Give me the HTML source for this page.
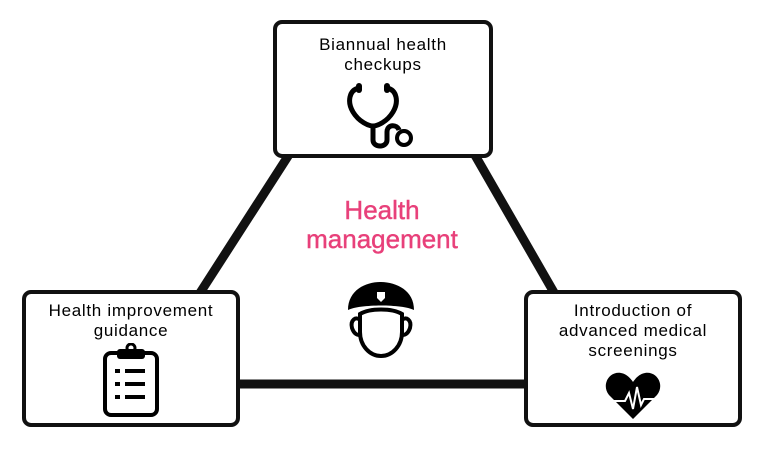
<!DOCTYPE html>
<html><head><style>
body{margin:0;width:767px;height:450px;background:#fff;position:relative;overflow:hidden;font-family:"Liberation Sans",sans-serif}
.b{position:absolute;border:4px solid #111;border-radius:9px;background:#fff;box-sizing:border-box;text-align:center;font-size:17px;letter-spacing:0.7px;line-height:20px;color:#000}
</style></head><body>
<svg width="767" height="450" style="position:absolute;left:0;top:0">
<line x1="292" y1="150" x2="198" y2="296" stroke="#111" stroke-width="9"/>
<line x1="472" y1="150" x2="556" y2="296" stroke="#111" stroke-width="9"/>
<line x1="234" y1="384" x2="530" y2="384" stroke="#111" stroke-width="9"/>
</svg>
<div class="b" style="left:273px;top:20px;width:220px;height:138px;padding-top:11px">Biannual health<br>checkups
<svg width="80" height="70" style="display:block;margin:5px auto 0" viewBox="0 0 80 70">
<path d="M16 8 C6 10 4 22 10 32 C16 42 26 46 30 46 C34 46 44 42 50 32 C56 22 54 10 44 8" fill="none" stroke="#000" stroke-width="5"/>
<rect x="13" y="3" width="6" height="10" rx="3" fill="#000"/><rect x="41" y="3" width="6" height="10" rx="3" fill="#000"/>
<path d="M30 46 L30 60 C30 68 44 68 44 60 L44 52 C44 44 54 44 56 50" fill="none" stroke="#000" stroke-width="5"/>
<circle cx="61" cy="58" r="7" fill="none" stroke="#000" stroke-width="4"/>
</svg></div>
<div style="position:absolute;left:282px;top:196px;width:200px;text-align:center;color:#e8407a;font-size:26px;line-height:29px;-webkit-text-stroke:0.4px #e8407a">Health<br>management</div>
<svg width="70" height="80" viewBox="0 0 70 80" style="position:absolute;left:346px;top:280px">
<path d="M2 30 C2 10 20 2 34 2 C50 2 68 10 68 30 C56 24 14 24 2 30Z" fill="#000"/>
<path d="M31 12 h8 v6 l-4 4 l-4 -4Z" fill="#fff"/>
<path d="M14 40 C10 36 4 40 6 48 C8 54 12 56 14 54" fill="none" stroke="#000" stroke-width="4"/>
<path d="M56 40 C60 36 66 40 64 48 C62 54 58 56 56 54" fill="none" stroke="#000" stroke-width="4"/>
<path d="M14 34 C24 28 46 28 56 34 L56 52 C56 66 46 76 35 76 C24 76 14 66 14 52Z" fill="#fff" stroke="#000" stroke-width="4"/>
</svg>
<div class="b" style="left:22px;top:290px;width:218px;height:137px;padding-top:7px">Health improvement<br>guidance
<svg width="60" height="76" viewBox="0 0 60 76" style="display:block;margin:2px auto 0">
<rect x="4" y="10" width="52" height="62" rx="6" fill="none" stroke="#000" stroke-width="4"/>
<rect x="16" y="6" width="28" height="10" rx="3" fill="#000"/><circle cx="30" cy="5" r="4" fill="none" stroke="#000" stroke-width="3"/>
<rect x="14" y="26" width="5" height="4" fill="#000"/><rect x="24" y="26" width="20" height="4" fill="#000"/>
<rect x="14" y="39" width="5" height="4" fill="#000"/><rect x="24" y="39" width="20" height="4" fill="#000"/>
<rect x="14" y="52" width="5" height="4" fill="#000"/><rect x="24" y="52" width="20" height="4" fill="#000"/>
</svg></div>
<div class="b" style="left:524px;top:290px;width:218px;height:137px;padding-top:7px">Introduction of<br>advanced medical<br>screenings
<svg width="56" height="50" viewBox="0 0 56 50" style="display:block;margin:10px auto 0">
<path d="M28 48 L4 24 C-4 14 4 0 16 2 C22 3 26 8 28 11 C30 8 34 3 40 2 C52 0 60 14 52 24Z" fill="#000"/>
<polyline points="2,30 20,30 24,22 28,38 32,16 36,34 39,28 54,28" fill="none" stroke="#fff" stroke-width="2"/>
</svg></div>
</body></html>
